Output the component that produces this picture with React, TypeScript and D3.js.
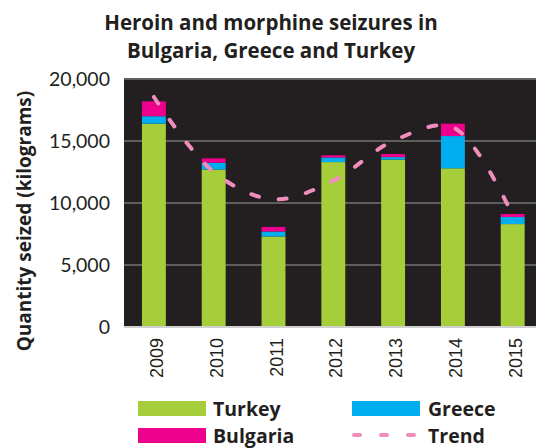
import React from "react";
import * as d3 from "d3";

const years = ["2009", "2010", "2011", "2012", "2013", "2014", "2015"];
const turkey = [16400, 12700, 7300, 13300, 13500, 12800, 8300];
const greece = [600, 550, 400, 370, 200, 2600, 570];
const bulgaria = [1200, 350, 370, 180, 250, 1000, 240];
const trend = [18550, 12500, 10300, 11800, 15000, 16100, 9000];
const yTicks = [0, 5000, 10000, 15000, 20000];
const seriesNames = ["Turkey", "Greece", "Bulgaria"];
const colors = ["#a6cd3a", "#00adee", "#ec008c"];
const trendColor = "#f08dbd";

const W = 536;
const H = 448;
const plotLeft = 124;
const plotRight = 536;
const plotTop = 79;
const plotBottom = 327;

export default function App() {
  const x = d3
    .scaleBand<string>()
    .domain(years)
    .range([plotLeft, plotLeft + 418.6])
    .paddingInner(0.6)
    .paddingOuter(0.3);
  const y = d3.scaleLinear().domain([0, 20000]).range([plotBottom, plotTop]);

  const rows = years.map((yr, i) => ({
    year: yr,
    Turkey: turkey[i],
    Greece: greece[i],
    Bulgaria: bulgaria[i],
  }));
  const stack = d3.stack<any>().keys(seriesNames)(rows);

  const line = d3
    .line<number>()
    .x((_, i) => (x(years[i]) as number) + x.bandwidth() / 2)
    .y((d) => y(d))
    .curve(d3.curveCatmullRom.alpha(0.5));

  const fmt = d3.format(",");
  const font = "Lato, 'Open Sans', sans-serif";
  const bold = "'Open Sans', Lato, sans-serif";

  return (
    <svg
      width={W}
      height={H}
      style={{ position: "absolute", left: 0, top: 0, background: "#fff" }}
    >
      <text
        x={271}
        y={29.5}
        textAnchor="middle"
        fontFamily={bold}
        fontWeight="bold"
        fontSize={20.5}
        fill="#231f20"
      >
        Heroin and morphine seizures in
      </text>
      <text
        x={271}
        y={58}
        textAnchor="middle"
        fontFamily={bold}
        fontWeight="bold"
        fontSize={20.5}
        fill="#231f20"
      >
        Bulgaria, Greece and Turkey
      </text>

      <rect
        x={plotLeft}
        y={plotTop}
        width={plotRight - plotLeft}
        height={plotBottom - plotTop}
        fill="#231f20"
      />
      {yTicks.map((t) =>
        t === 0 ? null : (
          <line
            key={t}
            x1={plotLeft}
            x2={plotRight}
            y1={y(t)}
            y2={y(t)}
            stroke="#5e5e5e"
            strokeWidth={2}
          />
        )
      )}
      {stack.map((s, si) =>
        s.map((d, i) => (
          <rect
            key={si + "-" + i}
            x={x(years[i])}
            y={y(d[1])}
            width={x.bandwidth()}
            height={y(d[0]) - y(d[1])}
            fill={colors[si]}
          />
        ))
      )}
      <path
        d={line(trend) || ""}
        fill="none"
        stroke={trendColor}
        strokeWidth={4}
        strokeLinecap="round"
        strokeDasharray="8 20"
      />
      <line
        x1={plotLeft}
        x2={plotRight}
        y1={plotBottom}
        y2={plotBottom}
        stroke="#d0d0d0"
        strokeWidth={2}
      />

      {yTicks.map((t) => (
        <text
          key={t}
          x={110}
          y={y(t) + 6.5}
          textAnchor="end"
          fontFamily={font}
          fontSize={19.5}
          fill="#231f20"
        >
          {fmt(t)}
        </text>
      ))}
      <text
        transform={`translate(31,221) rotate(-90)`}
        textAnchor="middle"
        fontFamily={bold}
        fontWeight="bold"
        fontSize={19}
        fill="#231f20"
      >
        Quantity seized (kilograms)
      </text>

      {years.map((yr) => (
        <text
          key={yr}
          transform={`translate(${(x(yr) as number) + x.bandwidth() / 2 + 9},338) rotate(-90)`}
          textAnchor="end"
          fontFamily="'Liberation Sans', Arial, sans-serif"
          fontSize={18}
          fill="#231f20"
        >
          {yr}
        </text>
      ))}

      {/* Legend */}
      <rect x={138} y={401} width={68} height={15} fill={colors[0]} />
      <text x={213} y={416} fontFamily={bold} fontWeight="bold" fontSize={19.5} fill="#231f20">
        Turkey
      </text>
      <rect x={352} y={401} width={68} height={15} fill={colors[1]} />
      <text x={428} y={416} fontFamily={bold} fontWeight="bold" fontSize={19.5} fill="#231f20">
        Greece
      </text>
      <rect x={138} y={428} width={68} height={15} fill={colors[2]} />
      <text x={213} y={443} fontFamily={bold} fontWeight="bold" fontSize={19.5} fill="#231f20">
        Bulgaria
      </text>
      <line
        x1={354}
        x2={420}
        y1={435}
        y2={435}
        stroke={trendColor}
        strokeWidth={4}
        strokeLinecap="round"
        strokeDasharray="6 21"
      />
      <text x={428} y={443} fontFamily={bold} fontWeight="bold" fontSize={19.5} fill="#231f20">
        Trend
      </text>
    </svg>
  );
}
